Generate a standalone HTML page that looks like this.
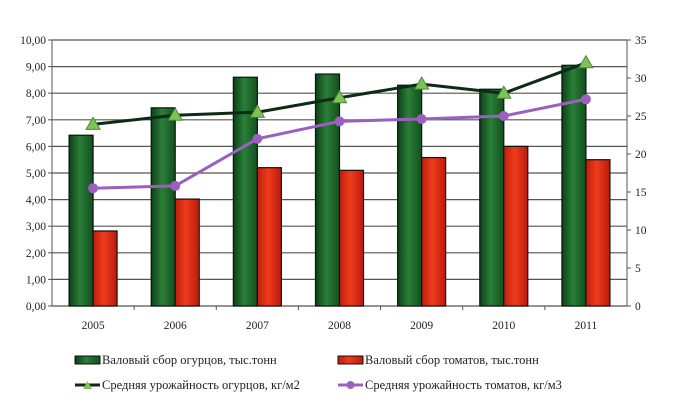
<!DOCTYPE html>
<html><head><meta charset="utf-8"><style>
body{margin:0;background:#fff;width:691px;height:400px;overflow:hidden}
svg{display:block}
svg text{font-family:"Liberation Serif","DejaVu Serif",serif}
</style></head><body>
<svg id="c" width="691" height="400">
<defs>
<linearGradient id="gg" x1="0" x2="1"><stop offset="0" stop-color="#0c4018"/><stop offset="0.45" stop-color="#2a7f38"/><stop offset="1" stop-color="#11501f"/></linearGradient>
<linearGradient id="rg" x1="0" x2="1"><stop offset="0" stop-color="#c01c0e"/><stop offset="0.45" stop-color="#ee3c1c"/><stop offset="1" stop-color="#bc1a0c"/></linearGradient>
</defs>
</svg>
<script>
const years=["2005","2006","2007","2008","2009","2010","2011"];
const cucumberHarvest=[6.42,7.45,8.6,8.72,8.3,8.15,9.05];
const tomatoHarvest=[2.82,4.02,5.2,5.1,5.58,6.0,5.5];
const cucumberYield=[23.9,25.1,25.5,27.4,29.2,28.0,32.0];
const tomatoYield=[15.5,15.8,22.0,24.3,24.6,25.0,27.2];
const leftTicks=["0,00","1,00","2,00","3,00","4,00","5,00","6,00","7,00","8,00","9,00","10,00"];
const rightTicks=["0","5","10","15","20","25","30","35"];

const NS="http://www.w3.org/2000/svg";
const svg=document.getElementById('c');
const FF='"Liberation Serif", "DejaVu Serif", serif';
const X0=52,X1=627,Y0=306,Y1=40;
const step=(X1-X0)/years.length;
const yL=v=>Y0-(v/10)*(Y0-Y1);
const yR=v=>Y0-(v/35)*(Y0-Y1);
const cx=i=>X0+step*(i+0.5);
function el(t,a,p){const e=document.createElementNS(NS,t);for(const k in a)e.setAttribute(k,a[k]);if(t=='text')e.setAttribute('font-family',FF);(p||svg).appendChild(e);return e;}

leftTicks.forEach((t,i)=>{
  const y=yL(i);
  const g=el('line',{x1:X0,x2:X1,y1:y,y2:y,stroke:'#555','stroke-width':1.2});
  
  
  el('line',{x1:X0-4,x2:X0,y1:y,y2:y,stroke:'#555'});
  const tx=el('text',{x:X0-6,y:y+4,'text-anchor':'end','font-size':11.5,fill:'#222'});
  tx.textContent=t;
  
  
});
rightTicks.forEach((t,i)=>{
  const y=yR(i*5);
  el('line',{x1:X1,x2:X1+4,y1:y,y2:y,stroke:'#555'});
  const tx=el('text',{x:X1+8,y:y+4,'font-size':11.5,fill:'#222'});
  tx.textContent=t;
  
  
});
el('line',{x1:X0,x2:X0,y1:Y1,y2:Y0,stroke:'#555'});
el('line',{x1:X1,x2:X1,y1:Y1,y2:Y0,stroke:'#555'});
for(let i=1;i<years.length;i++){el('line',{x1:X0+step*i,x2:X0+step*i,y1:Y0,y2:Y0+4,stroke:'#555'});}

const bw=24;
years.forEach((yr,i)=>{
  const c=cx(i);
  const g=el('rect',{x:c-bw,y:yL(cucumberHarvest[i]),width:bw,height:Y0-yL(cucumberHarvest[i]),fill:'url(#gg)',stroke:'#111','stroke-width':1.2});
  
  
  const r=el('rect',{x:c,y:yL(tomatoHarvest[i]),width:bw,height:Y0-yL(tomatoHarvest[i]),fill:'url(#rg)',stroke:'#111','stroke-width':1.2});
  
  
  const tx=el('text',{x:c,y:Y0+23,'text-anchor':'middle','font-size':11.5,fill:'#222'});
  tx.textContent=yr;
  
  
});

const lt=el('polyline',{points:tomatoYield.map((v,i)=>cx(i)+','+yR(v)).join(' '),fill:'none',stroke:'#9b5fc0','stroke-width':3});


tomatoYield.forEach((v,i)=>{
  const m=el('circle',{cx:cx(i),cy:yR(v),r:5,fill:'#9b5fc0'});
  
  
});
const lc=el('polyline',{points:cucumberYield.map((v,i)=>cx(i)+','+yR(v)).join(' '),fill:'none',stroke:'#0c2a14','stroke-width':3});


cucumberYield.forEach((v,i)=>{
  const x=cx(i),y=yR(v);
  const m=el('polygon',{points:`${x-7},${y+5} ${x+7},${y+5} ${x},${y-7}`,fill:'#7cc45a',stroke:'#4a8a30','stroke-width':1});
  
  
});

function leg(name,x,y,kind,label){
  const g=el('g',{});
  
  
  if(kind=='g'||kind=='r'){el('rect',{x:x,y:y-6,width:25,height:8,fill:kind=='g'?'url(#gg)':'url(#rg)',stroke:'#111'},g);}
  else if(kind=='lg'){el('line',{x1:x,x2:x+25,y1:y-2,y2:y-2,stroke:'#0c2a14','stroke-width':3},g);el('polygon',{points:`${x+8},${y+2} ${x+17},${y+2} ${x+12.5},${y-6}`,fill:'#7cc45a'},g);}
  else {el('line',{x1:x,x2:x+25,y1:y-2,y2:y-2,stroke:'#9b5fc0','stroke-width':3},g);el('circle',{cx:x+12.5,cy:y-2,r:4,fill:'#9b5fc0'},g);}
  const t=el('text',{x:x+27,y:y+2,'font-size':12.5,fill:'#222'},g);t.textContent=label;
}
leg('legend-cucumber-harvest',75,362,'g','Валовый сбор огурцов, тыс.тонн');
leg('legend-tomato-harvest',338,362,'r','Валовый сбор томатов, тыс.тонн');
leg('legend-cucumber-yield',75,387,'lg','Средняя урожайность огурцов, кг/м2');
leg('legend-tomato-yield',338,387,'lt','Средняя урожайность томатов, кг/м3');
</script>
</body></html>
